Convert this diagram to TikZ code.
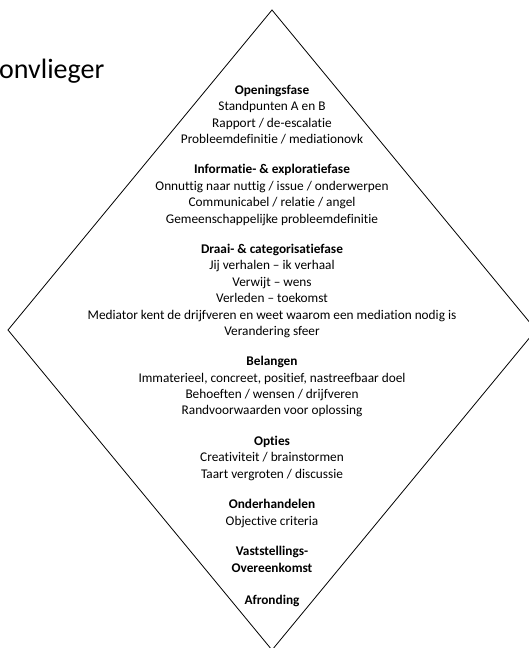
\documentclass[tikz,border=0pt]{standalone}
\usepackage{fontspec}
\setmainfont{Carlito}[Ligatures=NoCommon]
\usepackage{tikz}
\usetikzlibrary{positioning, chains}

\begin{document}
\begin{tikzpicture}[
    x = 1pt, y = -1pt,
    node distance = 16.35pt,
    start chain = going below,
    fase/.style = {align=center, inner sep=0pt, outer sep=0pt, on chain,
        font=\fontsize{13.3}{16.35}\selectfont,
        execute at begin node=\strut, execute at end node=\strut}
  ]
  \useasboundingbox (0,0) rectangle (529,648);
  \clip (0,0) rectangle (529,648);

  % ruit
  \coordinate (top)    at (272,10);
  \coordinate (east)   at (536,330);
  \coordinate (bottom) at (272,650);
  \coordinate (west)   at (8,330);
  \draw[line width=0.8pt] (top) -- (east) -- (bottom) -- (west) -- cycle;

  \node[font=\fontsize{28}{34}\selectfont, anchor=base west, inner sep=0pt] (TITLE) at (-1,78) {onvlieger};

  % fasen
  \node[fase, anchor=north] (F1) at (272,85)
    {\textbf{Openingsfase}\\Standpunten A en B\\Rapport / de-escalatie\\Probleemdefinitie / mediationovk};
  \node[fase] (F2)
    {\textbf{Informatie- \& exploratiefase}\\Onnuttig naar nuttig / issue / onderwerpen\\Communicabel / relatie / angel\\Gemeenschappelijke probleemdefinitie};
  \node[fase] (F3)
    {\textbf{Draai- \& categorisatiefase}\\Jij verhalen -- ik verhaal\\Verwijt -- wens\\Verleden -- toekomst\\Mediator kent de drijfveren en weet waarom een mediation nodig is\\Verandering sfeer};
  \node[fase] (F4)
    {\textbf{Belangen}\\Immaterieel, concreet, positief, nastreefbaar doel\\Behoeften / wensen / drijfveren\\Randvoorwaarden voor oplossing};
  \node[fase] (F5)
    {\textbf{Opties}\\Creativiteit / brainstormen\\Taart vergroten / discussie};
  \node[fase] (F6)
    {\textbf{Onderhandelen}\\Objective criteria};
  \node[fase] (F7)
    {\textbf{Vaststellings-}\\\textbf{Overeenkomst}};
  \node[fase] (F8)
    {\textbf{Afronding}};
\end{tikzpicture}
\end{document}
